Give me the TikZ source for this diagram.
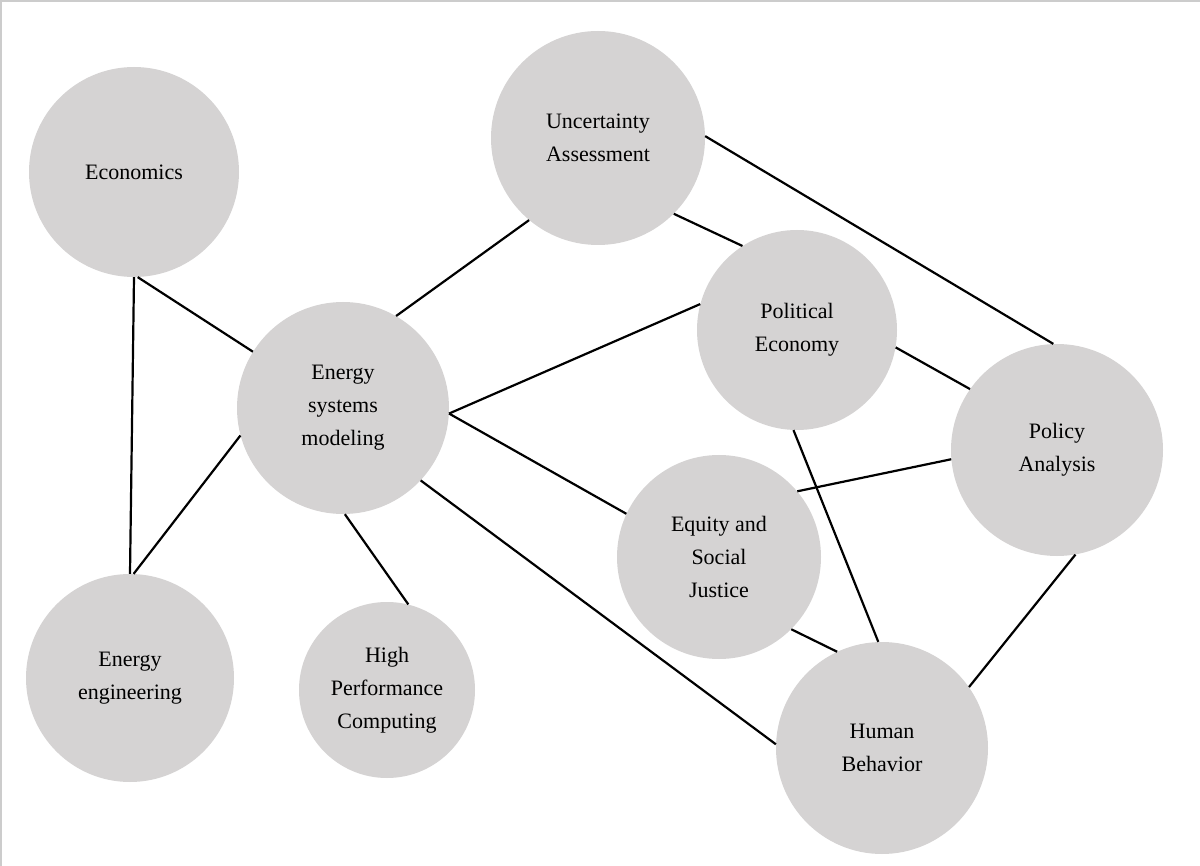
\documentclass[tikz,border=0pt]{standalone}
\usepackage{fontspec}
\setmainfont{Liberation Serif}
\definecolor{circ}{RGB}{213,211,211}
\begin{document}
\begin{tikzpicture}[x=1pt,y=-1pt,
  topic/.style={circle,fill=circ,inner sep=0pt,align=center,font=\fontsize{22}{33}\selectfont},
  link/.style={line width=2.2pt,black}]
\useasboundingbox (0,0) rectangle (1200,866);
\fill[white] (0,0) rectangle (1200,866);
\draw[gray!40,line width=1.5pt] (1,866) -- (1,1) -- (1200,1);
\node[topic,minimum size=210pt] (econ) at (134,172) {Economics};
\node[topic,minimum size=214pt] (unc) at (598,138) {Uncertainty\\Assessment};
\node[topic,minimum size=212pt] (esm) at (343,408) {Energy\\systems\\modeling};
\node[topic,minimum size=200pt] (pol) at (797,330) {Political\\Economy};
\node[topic,minimum size=212pt] (pa) at (1057,450) {Policy\\Analysis};
\node[topic,minimum size=204pt] (eq) at (719,557) {Equity and\\Social\\Justice};
\node[topic,minimum size=208pt] (eng) at (130,678) {Energy\\engineering};
\node[topic,minimum size=176pt] (hpc) at (387,690) {High\\Performance\\Computing};
\node[topic,minimum size=212pt] (hb) at (882,748) {Human\\Behavior};
\draw[link] (econ.south) -- (eng.north);
\draw[link] (econ.-88) -- (esm.148);
\draw[link] (esm.195) -- (eng.88);
\draw[link] (esm.60) -- (unc.-130);
\draw[link] (esm.-3) -- (pol.165);
\draw[link] (esm.-3) -- (eq.155);
\draw[link] (esm.-89) -- (hpc.76);
\draw[link] (esm.-43) -- (hb.178);
\draw[link] (unc.-45) -- (pol.123);
\draw[link] (unc.1) -- (pa.92);
\draw[link] (pol.-10) -- (pa.145);
\draw[link] (pol.-92) -- (hb.92);
\draw[link] (eq.40) -- (pa.185);
\draw[link] (eq.-45) -- (hb.115);
\draw[link] (pa.-80) -- (hb.35);
\end{tikzpicture}
\end{document}
